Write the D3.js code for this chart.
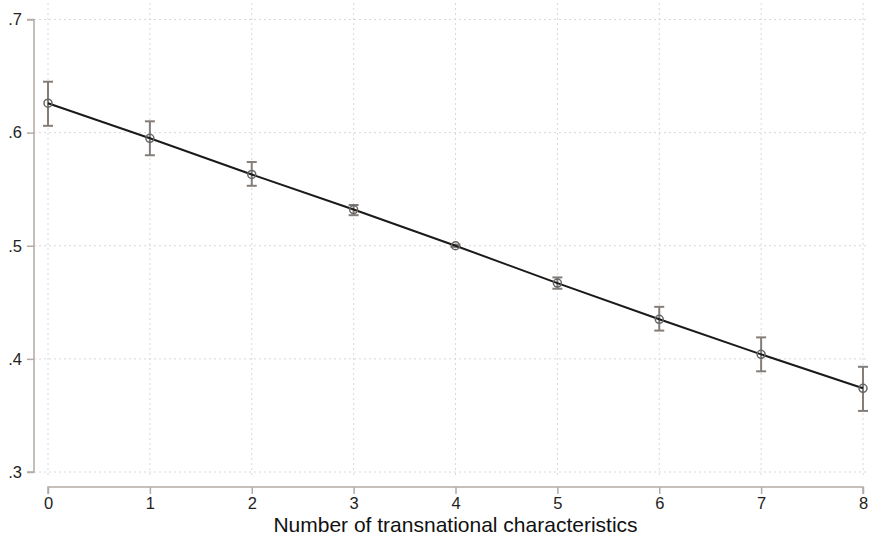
<!DOCTYPE html>
<html>
<head>
<meta charset="utf-8">
<script src="https://cdn.jsdelivr.net/npm/d3@7"></script>
<style>
  body { margin: 0; background: #fff; }
  text { font-family: "Liberation Sans", Arial, sans-serif; }
</style>
</head>
<body>
<div id="chart"></div>
<script>
// data
var xValues = [0, 1, 2, 3, 4, 5, 6, 7, 8];
var estimate = [0.626, 0.595, 0.563, 0.532, 0.500, 0.467, 0.435, 0.404, 0.374];
var upper    = [0.645, 0.610, 0.574, 0.536, 0.501, 0.472, 0.446, 0.419, 0.393];
var lower    = [0.606, 0.580, 0.553, 0.527, 0.499, 0.462, 0.425, 0.389, 0.354];
var yTicks = [0.3, 0.4, 0.5, 0.6, 0.7];
var xTitle = "Number of transnational characteristics";

var width = 871, height = 542;

var svg = d3.select("#chart").append("svg")
  .attr("width", width)
  .attr("height", height);

var x = d3.scaleLinear().domain([0, 8]).range([48, 863]);
var y = d3.scaleLinear().domain([0.3, 0.7]).range([472, 19.5]);

var axisColor = "#b3aba5";
var gridColor = "#d8d8d8";

// grid
svg.append("g").selectAll("line.hgrid")
  .data(yTicks)
  .enter().append("line")
  .attr("x1", 34).attr("x2", 866)
  .attr("y1", function(d){ return y(d); })
  .attr("y2", function(d){ return y(d); })
  .attr("stroke", gridColor)
  .attr("stroke-width", 1)
  .attr("stroke-dasharray", "2,3");

svg.append("g").selectAll("line.vgrid")
  .data(xValues)
  .enter().append("line")
  .attr("x1", function(d){ return x(d); })
  .attr("x2", function(d){ return x(d); })
  .attr("y1", 3).attr("y2", 478)
  .attr("stroke", gridColor)
  .attr("stroke-width", 1)
  .attr("stroke-dasharray", "2,3");

// y axis
var yAxis = svg.append("g")
  .attr("transform", "translate(34,0)")
  .call(d3.axisLeft(y).tickValues(yTicks).tickSize(7).tickPadding(5)
    .tickFormat(function(d){ return d3.format(".1f")(d).replace(/^0/, ""); }))
  .attr("font-size", 16.5)
  .attr("font-family", "Liberation Sans, Arial, sans-serif");
yAxis.select(".domain").attr("stroke", axisColor).attr("stroke-width", 1.5)
  .attr("d", "M-7," + y(0.7) + "H0V" + y(0.3) + "H-7");
yAxis.selectAll(".tick line").attr("stroke", axisColor).attr("stroke-width", 1.5);
yAxis.selectAll(".tick text").attr("fill", "#222");

// x axis
var xAxis = svg.append("g")
  .attr("transform", "translate(0,487)")
  .call(d3.axisBottom(x).tickValues(xValues).tickSize(7).tickPadding(3)
    .tickFormat(d3.format("d")))
  .attr("font-size", 16.5)
  .attr("font-family", "Liberation Sans, Arial, sans-serif");
xAxis.select(".domain").attr("stroke", axisColor).attr("stroke-width", 1.5)
  .attr("d", "M" + x(0) + ",7V0H" + x(8) + "V7");
xAxis.selectAll(".tick line").attr("stroke", axisColor).attr("stroke-width", 1.5);
xAxis.selectAll(".tick text").attr("fill", "#222");

svg.append("text")
  .attr("x", (x(0) + x(8)) / 2)
  .attr("y", 532)
  .attr("text-anchor", "middle")
  .attr("fill", "#111")
  .style("font-size", "21px")
  .text(xTitle);

var pts = xValues.map(function(d, i){
  return { x: d, est: estimate[i], hi: upper[i], lo: lower[i] };
});

// error bars
var errColor = "#857d78";
var eb = svg.append("g").selectAll("g.err").data(pts).enter().append("g");
eb.append("line")
  .attr("x1", function(d){ return x(d.x); })
  .attr("x2", function(d){ return x(d.x); })
  .attr("y1", function(d){ return y(d.hi); })
  .attr("y2", function(d){ return y(d.lo); })
  .attr("stroke", errColor).attr("stroke-width", 2);
eb.append("line")
  .attr("x1", function(d){ return x(d.x) - 5; })
  .attr("x2", function(d){ return x(d.x) + 5; })
  .attr("y1", function(d){ return y(d.hi); })
  .attr("y2", function(d){ return y(d.hi); })
  .attr("stroke", errColor).attr("stroke-width", 2);
eb.append("line")
  .attr("x1", function(d){ return x(d.x) - 5; })
  .attr("x2", function(d){ return x(d.x) + 5; })
  .attr("y1", function(d){ return y(d.lo); })
  .attr("y2", function(d){ return y(d.lo); })
  .attr("stroke", errColor).attr("stroke-width", 2);

// line
svg.append("path")
  .datum(pts)
  .attr("fill", "none")
  .attr("stroke", "#1a1a1a")
  .attr("stroke-width", 2)
  .attr("d", d3.line()
    .x(function(d){ return x(d.x); })
    .y(function(d){ return y(d.est); }));

// markers
svg.append("g").selectAll("circle")
  .data(pts)
  .enter().append("circle")
  .attr("cx", function(d){ return x(d.x); })
  .attr("cy", function(d){ return y(d.est); })
  .attr("r", 4)
  .attr("fill", "none")
  .attr("stroke", "#666")
  .attr("stroke-width", 1.5);
</script>
</body>
</html>
